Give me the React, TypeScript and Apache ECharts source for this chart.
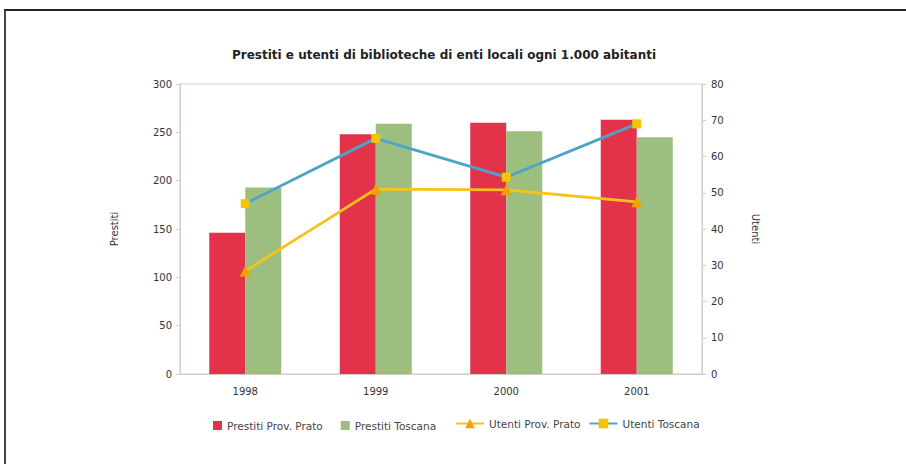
import React, { useEffect, useRef } from "react";
import * as echarts from "echarts";

const years = ["1998", "1999", "2000", "2001"];
const prestitiPrato = [146, 248, 260, 263];
const prestitiToscana = [193, 259, 251, 245];
const utentiPrato = [28.4, 51, 50.8, 47.5];
const utentiToscana = [47, 65, 54.3, 69];

const FONT = "'DejaVu Sans', Verdana, sans-serif";
const AXIS_COLOR = "#d3ccc5";

export default function App() {
  const ref = useRef<HTMLDivElement>(null);

  useEffect(() => {
    if (!ref.current) return;
    const chart = echarts.init(ref.current, null, { renderer: "svg" });
    chart.setOption({
      animation: false,
      backgroundColor: "#ffffff",
      textStyle: { fontFamily: FONT },
      title: {
        text: "Prestiti e utenti di biblioteche di enti locali ogni 1.000 abitanti",
        left: 439,
        textAlign: "center",
        top: 44,
        textStyle: { fontSize: 12, fontWeight: "bold", color: "#222", fontFamily: FONT },
      },
      grid: {
        left: 180,
        right: 204,
        top: 84,
        bottom: 90,
        show: true,
        borderColor: AXIS_COLOR,
        borderWidth: 1,
      },
      legend: [
        {
          left: 208,
          top: 415,
          itemWidth: 9,
          itemHeight: 9,
          itemGap: 18,
          icon: "rect",
          textStyle: { fontSize: 10.5, color: "#444", fontFamily: FONT },
          data: ["Prestiti Prov. Prato", "Prestiti Toscana"],
        },
        {
          left: 450,
          top: 413,
          itemWidth: 28,
          itemHeight: 12,
          itemGap: 8,
          textStyle: { fontSize: 10.5, color: "#444", fontFamily: FONT },
          data: ["Utenti Prov. Prato", "Utenti Toscana"],
        },
      ],
      xAxis: {
        type: "category",
        data: years,
        axisLine: { lineStyle: { color: AXIS_COLOR } },
        axisTick: { show: false },
        axisLabel: { fontSize: 10, color: "#333", margin: 12 },
      },
      yAxis: [
        {
          type: "value",
          min: 0,
          max: 300,
          interval: 50,
          name: "Prestiti",
          nameLocation: "middle",
          nameGap: 61,
          nameRotate: 90,
          nameTextStyle: { fontSize: 10, color: "#333" },
          axisLine: { show: true, lineStyle: { color: AXIS_COLOR } },
          axisTick: { show: true, length: 4, lineStyle: { color: AXIS_COLOR } },
          axisLabel: { fontSize: 10, color: "#333", margin: 8 },
          splitLine: { show: false },
        },
        {
          type: "value",
          min: 0,
          max: 80,
          interval: 10,
          name: "Utenti",
          nameLocation: "middle",
          nameGap: 48,
          nameRotate: -90,
          nameTextStyle: { fontSize: 10, color: "#333" },
          axisLine: { show: true, lineStyle: { color: AXIS_COLOR } },
          axisTick: { show: true, length: 4, lineStyle: { color: AXIS_COLOR } },
          axisLabel: { fontSize: 10, color: "#333", margin: 9 },
          splitLine: { show: false },
        },
      ],
      series: [
        {
          name: "Prestiti Prov. Prato",
          type: "bar",
          data: prestitiPrato,
          barWidth: 36,
          barGap: "0%",
          itemStyle: {
            color: "#e2334b",
            decal: {
              symbol: "circle",
              symbolSize: 0.35,
              color: "rgba(255,255,255,0.22)",
              dashArrayX: [1, 0],
              dashArrayY: [3, 4],
              rotation: 0,
            },
          },
        },
        {
          name: "Prestiti Toscana",
          type: "bar",
          data: prestitiToscana,
          barWidth: 36,
          barGap: "0%",
          itemStyle: { color: "#9cbe7e" },
        },
        {
          name: "Utenti Prov. Prato",
          type: "line",
          yAxisIndex: 1,
          data: utentiPrato,
          symbol: "triangle",
          symbolSize: 11,
          lineStyle: { color: "#f6c21c", width: 2.8 },
          itemStyle: { color: "#f4a000" },
        },
        {
          name: "Utenti Toscana",
          type: "line",
          yAxisIndex: 1,
          data: utentiToscana,
          symbol: "rect",
          symbolSize: 9,
          lineStyle: { color: "#4ca5c8", width: 2.8 },
          itemStyle: { color: "#f4c400" },
        },
      ],
      graphic: [
        {
          type: "line",
          shape: { x1: 4, y1: 10, x2: 906, y2: 10 },
          style: { stroke: "#222", lineWidth: 2 },
        },
        {
          type: "line",
          shape: { x1: 5, y1: 10, x2: 5, y2: 464 },
          style: { stroke: "#444", lineWidth: 2 },
        },
      ],
    });
    return () => chart.dispose();
  }, []);

  return <div ref={ref} style={{ width: 906, height: 464, position: "fixed", left: 0, top: 0 }} />;
}
